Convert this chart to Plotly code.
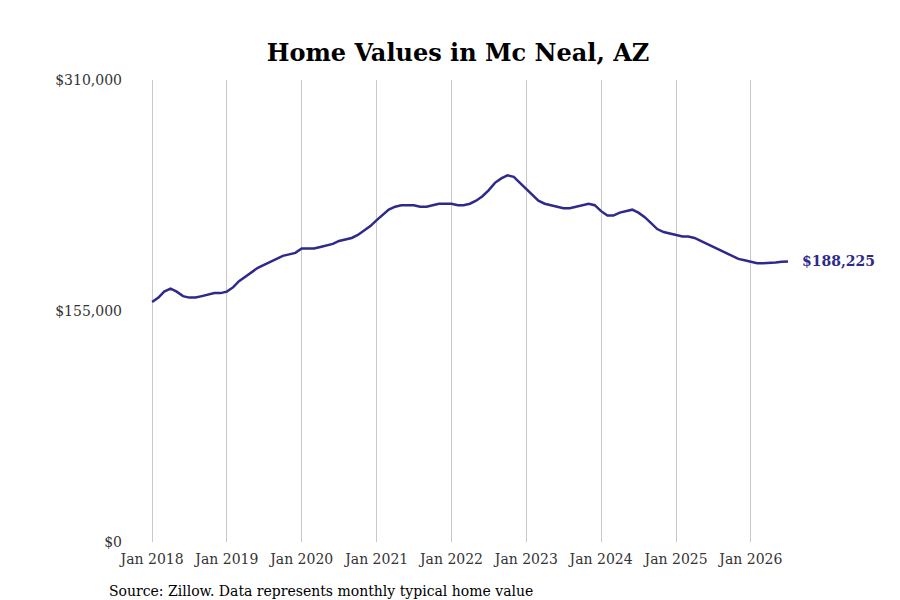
import pandas as pd
import plotly.graph_objects as go

# monthly typical home value (thousands), Jan 2018 - Jul 2026
values = [161, 164, 168, 170, 168, 165, 164, 164, 165, 166, 167, 167,
          168, 171, 175, 178, 181, 184, 186, 188, 190, 192, 193, 194,
          197, 197, 197, 198, 199, 200, 202, 203, 204, 206, 209, 212,
          216, 220, 223, 225, 226, 226, 226, 225, 225, 226, 227, 227,
          227, 226, 226, 227, 229, 232, 236, 241, 244, 246, 245, 241,
          237, 233, 229, 227, 226, 225, 224, 224, 225, 226, 227, 226,
          222, 219, 219, 221, 222, 223, 221, 218, 214, 210, 208, 207,
          206, 205, 205, 204, 202, 200, 198, 196, 194, 192, 190, 189,
          188, 187, 187, 187, 187.5, 188, 188.225]
dates = pd.date_range("2018-01-01", periods=len(values), freq="MS")
values = [v * 1000 for v in values]
tick_years = list(range(2018, 2027))

fig = go.Figure()
fig.add_trace(go.Scatter(x=dates, y=values, mode="lines",
                         line=dict(color="#2e2a8c", width=2.5), hoverinfo="skip"))
fig.add_annotation(x=dates[-1], y=values[-1], text="<b>$188,225</b>", showarrow=False,
                   xanchor="left", xshift=12, font=dict(color="#2e2a8c", size=14, family="DejaVu Serif"))
fig.add_annotation(x=0, y=-0.085, xref="paper", yref="paper", xanchor="left", yanchor="top",
                   xshift=-16, text="Source: Zillow. Data represents monthly typical home value",
                   showarrow=False, font=dict(size=14, family="DejaVu Serif", color="black"))

fig.update_layout(
    width=900, height=600, plot_bgcolor="white", paper_bgcolor="white",
    margin=dict(l=115, r=20, t=72, b=66, autoexpand=False),
    title=dict(text="<b>Home Values in Mc Neal, AZ</b>", x=0.5, y=0.925, yanchor="middle",
               font=dict(family="DejaVu Serif", size=24, color="black")),
    font=dict(family="DejaVu Serif", size=14, color="#333"),
    showlegend=False,
)
fig.update_xaxes(range=["2017-08-12", "2027-11-01"], showgrid=True, gridcolor="#c8c8c8",
                 tickvals=[f"{y}-01-01" for y in tick_years], automargin=False,
                 ticks="outside", ticklen=4, tickcolor="white",
                 ticktext=[f"Jan {y}" for y in tick_years], zeroline=False, showline=False)
fig.update_yaxes(range=[0, 310000], showgrid=False, zeroline=False, automargin=False,
                 tickvals=[0, 155000, 310000], ticktext=["$0", "$155,000", "$310,000"])
fig.write_html("out.html")
